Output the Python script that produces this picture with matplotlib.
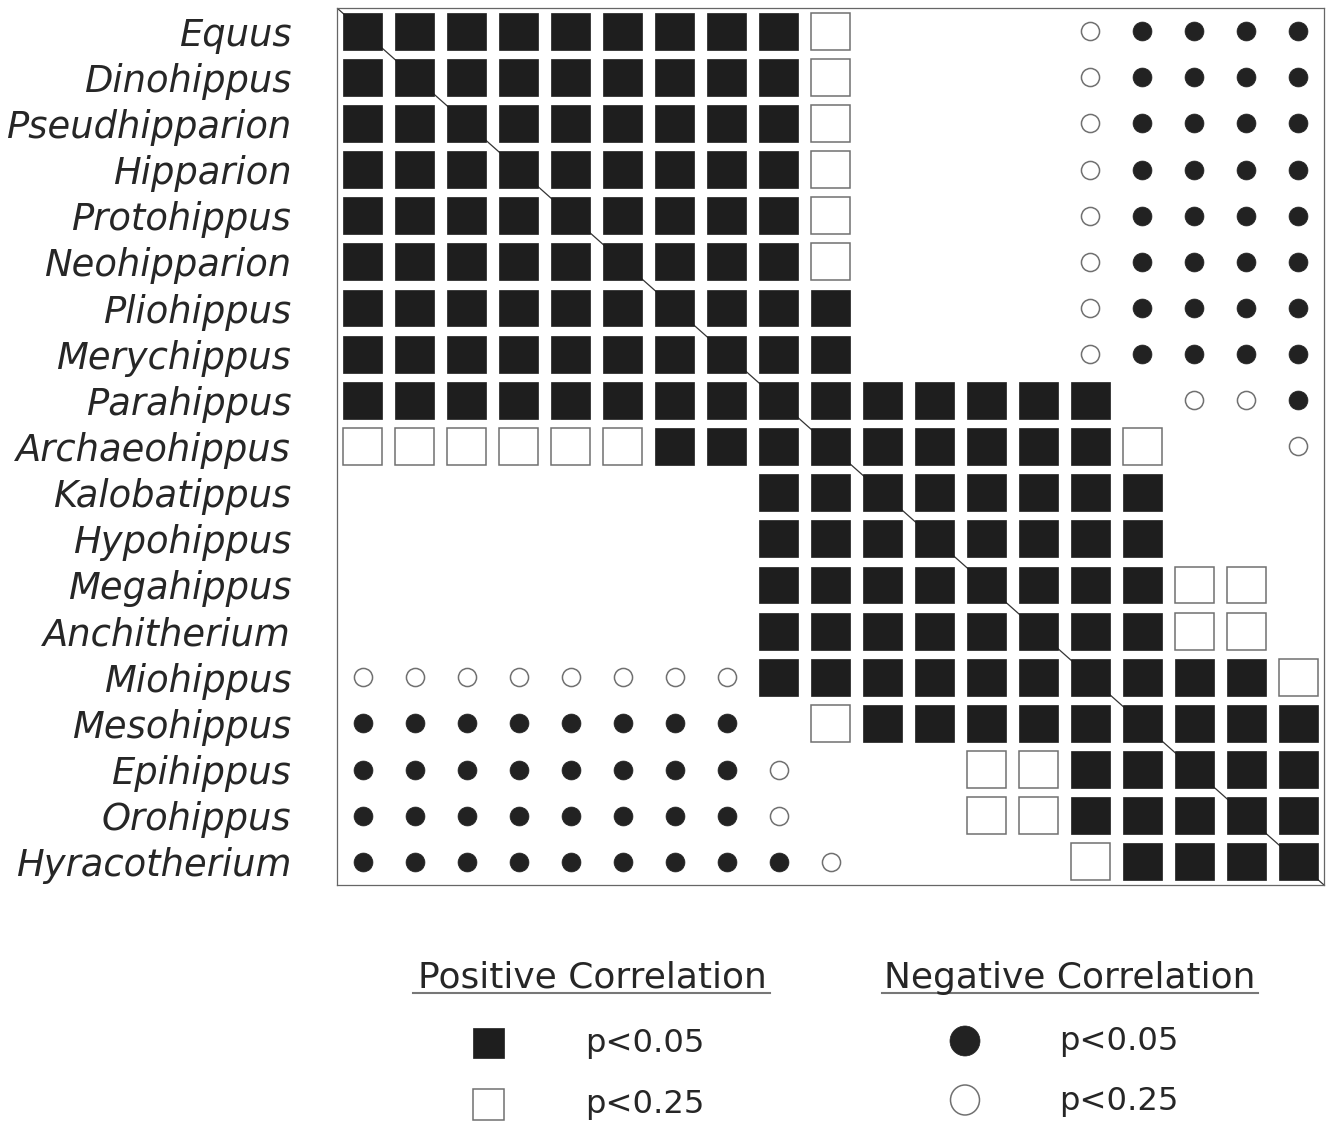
import matplotlib
matplotlib.use("Agg")
import matplotlib.pyplot as plt
from matplotlib.patches import Rectangle, Ellipse
from matplotlib.lines import Line2D

# genera, top to bottom (columns use the same order, left to right)
genera = ["Equus", "Dinohippus", "Pseudhipparion", "Hipparion", "Protohippus",
          "Neohipparion", "Pliohippus", "Merychippus", "Parahippus",
          "Archaeohippus", "Kalobatippus", "Hypohippus", "Megahippus",
          "Anchitherium", "Miohippus", "Mesohippus", "Epihippus", "Orohippus",
          "Hyracotherium"]

# S = positive p<0.05, s = positive p<0.25
# C = negative p<0.05, c = negative p<0.25, . = nothing
cells = [
    "SSSSSSSSSs....cCCCC",
    "SSSSSSSSSs....cCCCC",
    "SSSSSSSSSs....cCCCC",
    "SSSSSSSSSs....cCCCC",
    "SSSSSSSSSs....cCCCC",
    "SSSSSSSSSs....cCCCC",
    "SSSSSSSSSS....cCCCC",
    "SSSSSSSSSS....cCCCC",
    "SSSSSSSSSSSSSSS.ccC",
    "ssssssSSSSSSSSSs..c",
    "........SSSSSSSS...",
    "........SSSSSSSS...",
    "........SSSSSSSSss.",
    "........SSSSSSSSss.",
    "ccccccccSSSSSSSSSSs",
    "CCCCCCCC.sSSSSSSSSS",
    "CCCCCCCCc...ssSSSSS",
    "CCCCCCCCc...ssSSSSS",
    "CCCCCCCCCc....sSSSS",
]

dark = "#1e1e1e"
txt = "#262626"
edge = "#707070"

W, H = 1329, 1126
fig = plt.figure(figsize=(W / 100, H / 100), dpi=100)
fig.patch.set_facecolor("white")
ax = fig.add_axes([337 / W, 1 - 885 / H, 987 / W, 877 / H])
n = len(genera)
ax.set_xlim(-0.5, n - 0.5)
ax.set_ylim(n - 0.5, -0.5)

# diagonal line under the marks
ax.plot([-0.5, n - 0.5], [-0.5, n - 0.5], color="#333333", lw=0.9, zorder=1)

sw, sh = 0.75, 0.80
fx, fy, ox, oy = [], [], [], []
for r, row in enumerate(cells):
    for c, code in enumerate(row):
        if code == "S":
            ax.add_patch(Rectangle((c - sw / 2, r - sh / 2), sw, sh,
                                   facecolor=dark, edgecolor=dark, lw=0.5, zorder=2))
        elif code == "s":
            ax.add_patch(Rectangle((c - sw / 2, r - sh / 2), sw, sh,
                                   facecolor="white", edgecolor=edge, lw=1.1, zorder=2))
        elif code == "C":
            fx.append(c)
            fy.append(r)
        elif code == "c":
            ox.append(c)
            oy.append(r)

ax.scatter(fx, fy, s=185, marker="o", color="#222222", edgecolors="#222222",
           lw=0.5, zorder=3)
ax.scatter(ox, oy, s=170, marker="o", facecolors="white", edgecolors=edge,
           lw=1.1, zorder=3)

ax.set_xticks([])
ax.set_yticks(range(n))
ax.set_yticklabels(genera, fontsize=26.6, fontstyle="italic", color=txt,
                   family="DejaVu Sans")
ax.tick_params(axis="y", length=0, pad=33)
for sp in ax.spines.values():
    sp.set_color("#666666")
    sp.set_linewidth(0.9)


# legend, placed in figure pixels
def fx_(x):
    return x / W


def fy_(y):
    return 1 - y / H


fig.text(fx_(592), fy_(988), "Positive Correlation", fontsize=25.9, color=txt,
         ha="center", va="baseline")
fig.text(fx_(1070), fy_(988), "Negative Correlation", fontsize=25.9, color=txt,
         ha="center", va="baseline")
fig.add_artist(Line2D([fx_(413), fx_(770)], [fy_(993), fy_(993)], color="#777777", lw=1.5))
fig.add_artist(Line2D([fx_(882), fx_(1258)], [fy_(993), fy_(993)], color="#777777", lw=1.5))

fig.add_artist(Rectangle((fx_(473), fy_(1058)), 31 / W, 30 / H, transform=fig.transFigure,
                         facecolor=dark, edgecolor=dark, lw=0.5))
fig.add_artist(Rectangle((fx_(473), fy_(1120)), 31 / W, 31 / H, transform=fig.transFigure,
                         facecolor="white", edgecolor=edge, lw=1.1))
fig.add_artist(Ellipse((fx_(965), fy_(1041)), 30 / W, 30 / H, transform=fig.transFigure,
                       facecolor="#222222", edgecolor="#222222", lw=0.5))
fig.add_artist(Ellipse((fx_(965), fy_(1100)), 29 / W, 30 / H, transform=fig.transFigure,
                       facecolor="white", edgecolor=edge, lw=1.1))

fig.text(fx_(585), fy_(1052), "p<0.05", fontsize=23.2, color=txt, va="baseline")
fig.text(fx_(585), fy_(1113), "p<0.25", fontsize=23.2, color=txt, va="baseline")
fig.text(fx_(1059), fy_(1050), "p<0.05", fontsize=23.2, color=txt, va="baseline")
fig.text(fx_(1059), fy_(1110), "p<0.25", fontsize=23.2, color=txt, va="baseline")

fig.savefig("out.png", dpi=100, facecolor="white")
